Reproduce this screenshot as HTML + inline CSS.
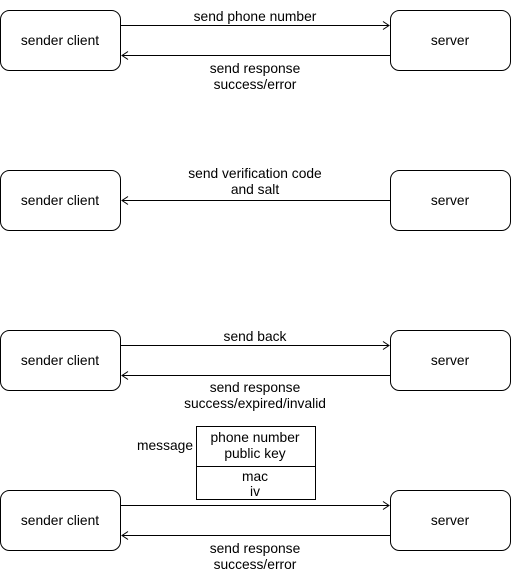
<!DOCTYPE html>
<html><head><style>body{margin:0;background:#fff}</style></head><body>
<svg width="511" height="572" xmlns="http://www.w3.org/2000/svg" font-family="Liberation Sans, Helvetica, Arial, sans-serif" font-size="13.8" text-anchor="middle">
<g fill="#fff" stroke="#000" stroke-width="1">
<rect x="0.5" y="10.5" width="120" height="60" rx="9"/>
<rect x="390.5" y="10.5" width="120" height="60" rx="9"/>
<rect x="0.5" y="170.5" width="120" height="60" rx="9"/>
<rect x="390.5" y="170.5" width="120" height="60" rx="9"/>
<rect x="0.5" y="330.5" width="120" height="60" rx="9"/>
<rect x="390.5" y="330.5" width="120" height="60" rx="9"/>
<rect x="0.5" y="490.5" width="120" height="60" rx="9"/>
<rect x="390.5" y="490.5" width="120" height="60" rx="9"/>
<rect x="196.5" y="426.5" width="119" height="73"/>
<line x1="196.5" y1="466.5" x2="315.5" y2="466.5"/>
</g>
<g stroke="#000" fill="none">
<path d="M121 25.5H389M383 21.5l6 4-6 4"/>
<path d="M390 55.5H122M128 51.5l-6 4 6 4"/>
<path d="M390 200.5H122M128 196.5l-6 4 6 4"/>
<path d="M121 345.5H389M383 341.5l6 4-6 4"/>
<path d="M390 375.5H122M128 371.5l-6 4 6 4"/>
<path d="M121 505.5H389M383 501.5l6 4-6 4"/>
<path d="M390 535.5H122M128 531.5l-6 4 6 4"/>
</g>
<g fill="#000">
<text x="60" y="45">sender client</text><text x="450" y="45">server</text>
<text x="60" y="205">sender client</text><text x="450" y="205">server</text>
<text x="60" y="365">sender client</text><text x="450" y="365">server</text>
<text x="60" y="525">sender client</text><text x="450" y="525">server</text>
<text x="255" y="21">send phone number</text>
<text x="255" y="73">send response</text><text x="255" y="89">success/error</text>
<text x="255" y="178">send verification code</text><text x="255" y="194">and salt</text>
<text x="255" y="341">send back</text>
<text x="255" y="392">send response</text><text x="255" y="408">success/expired/invalid</text>
<text x="255" y="442">phone number</text><text x="255" y="458">public key</text>
<text x="255" y="481">mac</text><text x="255" y="496">iv</text>
<text x="193" y="450" text-anchor="end">message</text>
<text x="255" y="553">send response</text><text x="255" y="569">success/error</text>
</g>
</svg>
</body></html>
